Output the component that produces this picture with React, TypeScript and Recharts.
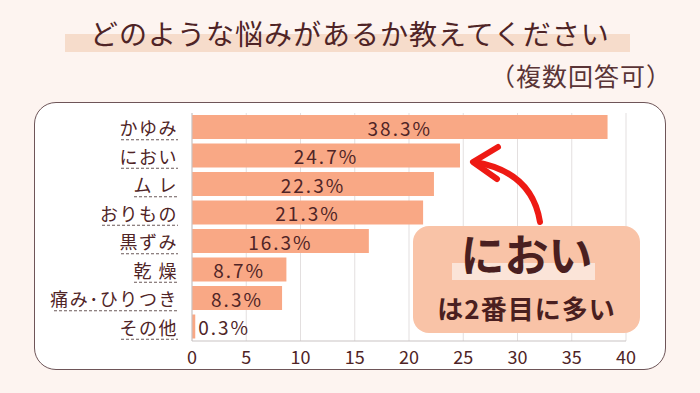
import { Bar, BarChart, CartesianGrid, LabelList, XAxis, YAxis } from "recharts";

const CATEGORIES = ["かゆみ", "におい", "ム レ", "おりもの", "黒ずみ", "乾 燥", "痛み･ひりつき", "その他"];
const VALUES = [38.3, 24.7, 22.3, 21.3, 16.3, 8.7, 8.3, 0.3];
const X_TICKS = [0, 5, 10, 15, 20, 25, 30, 35, 40];

const TITLE = "どのような悩みがあるか教えてください";
const SUBTITLE = "（複数回答可）";
const NOTE_MAIN = "におい";
const NOTE_SUB = "は2番目に多い";

const data = CATEGORIES.map((name, i) => ({ name, value: VALUES[i] }));

const FONT = '"Noto Sans CJK JP", "Noto Sans", sans-serif';
const TEXT = "#4f2426";
const BAR = "#f9a885";
const GRID = "#e3dfdf";

function CategoryTick(props: any) {
  const { x, y, payload } = props;
  const label: string = payload.value;
  let w = 0;
  for (const ch of label) w += ch === " " ? 6 : ch === "･" ? 10 : 19;
  return (
    <g>
      <text
        x={x}
        y={y}
        textAnchor="end"
        dominantBaseline="central"
        fill={TEXT}
        fontSize={18}
        letterSpacing={1.5}
        fontFamily={FONT}
      >
        {label}
      </text>
      <line
        x1={x - w}
        x2={x}
        y1={y + 12.5}
        y2={y + 12.5}
        stroke="#6b5a5a"
        strokeWidth={1.2}
        strokeDasharray="3 2"
      />
    </g>
  );
}

function ValueLabel(props: any) {
  const { x, y, width, height, value } = props;
  const inside = value >= 3;
  return (
    <text
      x={inside ? x + width / 2 : x + width + 3}
      y={y + height / 2}
      textAnchor={inside ? "middle" : "start"}
      dominantBaseline="central"
      fill={TEXT}
      fontSize={19}
      letterSpacing={2}
      fontFamily={FONT}
    >
      {`${value}%`}
    </text>
  );
}

export default function App() {
  return (
    <div
      style={{
        position: "absolute",
        left: 0,
        top: 0,
        width: 700,
        height: 393,
        background: "#fdf4f0",
        fontFamily: FONT,
        overflow: "hidden",
      }}
    >
      {/* title with highlight band */}
      <div
        style={{
          position: "absolute",
          left: 65,
          top: 34,
          width: 565,
          height: 18,
          background: "#f6dccb",
        }}
      />
      <div
        style={{
          position: "absolute",
          left: 0,
          top: 16,
          width: 700,
          textAlign: "center",
          fontSize: 28,
          lineHeight: "34px",
          letterSpacing: 1,
          color: TEXT,
        }}
      >
        {TITLE}
      </div>
      <div
        style={{
          position: "absolute",
          right: 28,
          top: 60,
          fontSize: 25,
          lineHeight: "30px",
          letterSpacing: 1,
          color: "#5a3436",
        }}
      >
        {SUBTITLE}
      </div>

      {/* card */}
      <div
        style={{
          position: "absolute",
          left: 34,
          top: 102,
          width: 630,
          height: 266,
          border: "1.5px solid #6e5558",
          borderRadius: 22,
          background: "#ffffff",
        }}
      />

      <div style={{ position: "absolute", left: 0, top: 0 }}>
        <BarChart
          width={700}
          height={393}
          data={data}
          layout="vertical"
          margin={{ top: 113, right: 74, bottom: 22, left: 0 }}
          barSize={24}
        >
          <CartesianGrid horizontal={false} stroke={GRID} strokeWidth={1} />
          <XAxis
            type="number"
            domain={[0, 40]}
            ticks={X_TICKS}
            height={30}
            axisLine={{ stroke: "#c9c3c3" }}
            tickLine={false}
            tick={{ fill: TEXT, fontSize: 18, fontFamily: FONT }}
            tickMargin={4}
            interval={0}
          />
          <YAxis
            type="category"
            dataKey="name"
            width={192}
            axisLine={{ stroke: "#c9c3c3" }}
            tickLine={false}
            tickMargin={8}
            tick={<CategoryTick />}
            interval={0}
          />
          <Bar dataKey="value" fill={BAR} isAnimationActive={false}>
            <LabelList dataKey="value" content={<ValueLabel />} />
          </Bar>
        </BarChart>
      </div>

      {/* annotation */}
      <div
        style={{
          position: "absolute",
          left: 413,
          top: 226,
          width: 227,
          height: 107,
          borderRadius: 16,
          background: "#f9c3a7",
        }}
      />
      <div
        style={{
          position: "absolute",
          left: 452,
          top: 263,
          width: 143,
          height: 17,
          background: "#fbe4d8",
        }}
      />
      <div
        style={{
          position: "absolute",
          left: 413,
          top: 226,
          width: 227,
          textAlign: "center",
          fontSize: 44,
          fontWeight: 700,
          lineHeight: "54px",
          color: "#4a1f20",
        }}
      >
        {NOTE_MAIN}
      </div>
      <div
        style={{
          position: "absolute",
          left: 413,
          top: 292,
          width: 227,
          textAlign: "center",
          fontSize: 26,
          fontWeight: 700,
          lineHeight: "32px",
          letterSpacing: 1,
          color: "#4a1f20",
        }}
      >
        {NOTE_SUB}
      </div>
      <svg
        width={700}
        height={393}
        style={{ position: "absolute", left: 0, top: 0, pointerEvents: "none" }}
      >
        <path
          d="M 540 222 Q 532 172 475 162"
          fill="none"
          stroke="#ee1a14"
          strokeWidth={6}
          strokeLinecap="round"
        />
        <path
          d="M 498 147 L 473 162 L 497 179"
          fill="none"
          stroke="#ee1a14"
          strokeWidth={6}
          strokeLinecap="round"
          strokeLinejoin="round"
        />
      </svg>
    </div>
  );
}
